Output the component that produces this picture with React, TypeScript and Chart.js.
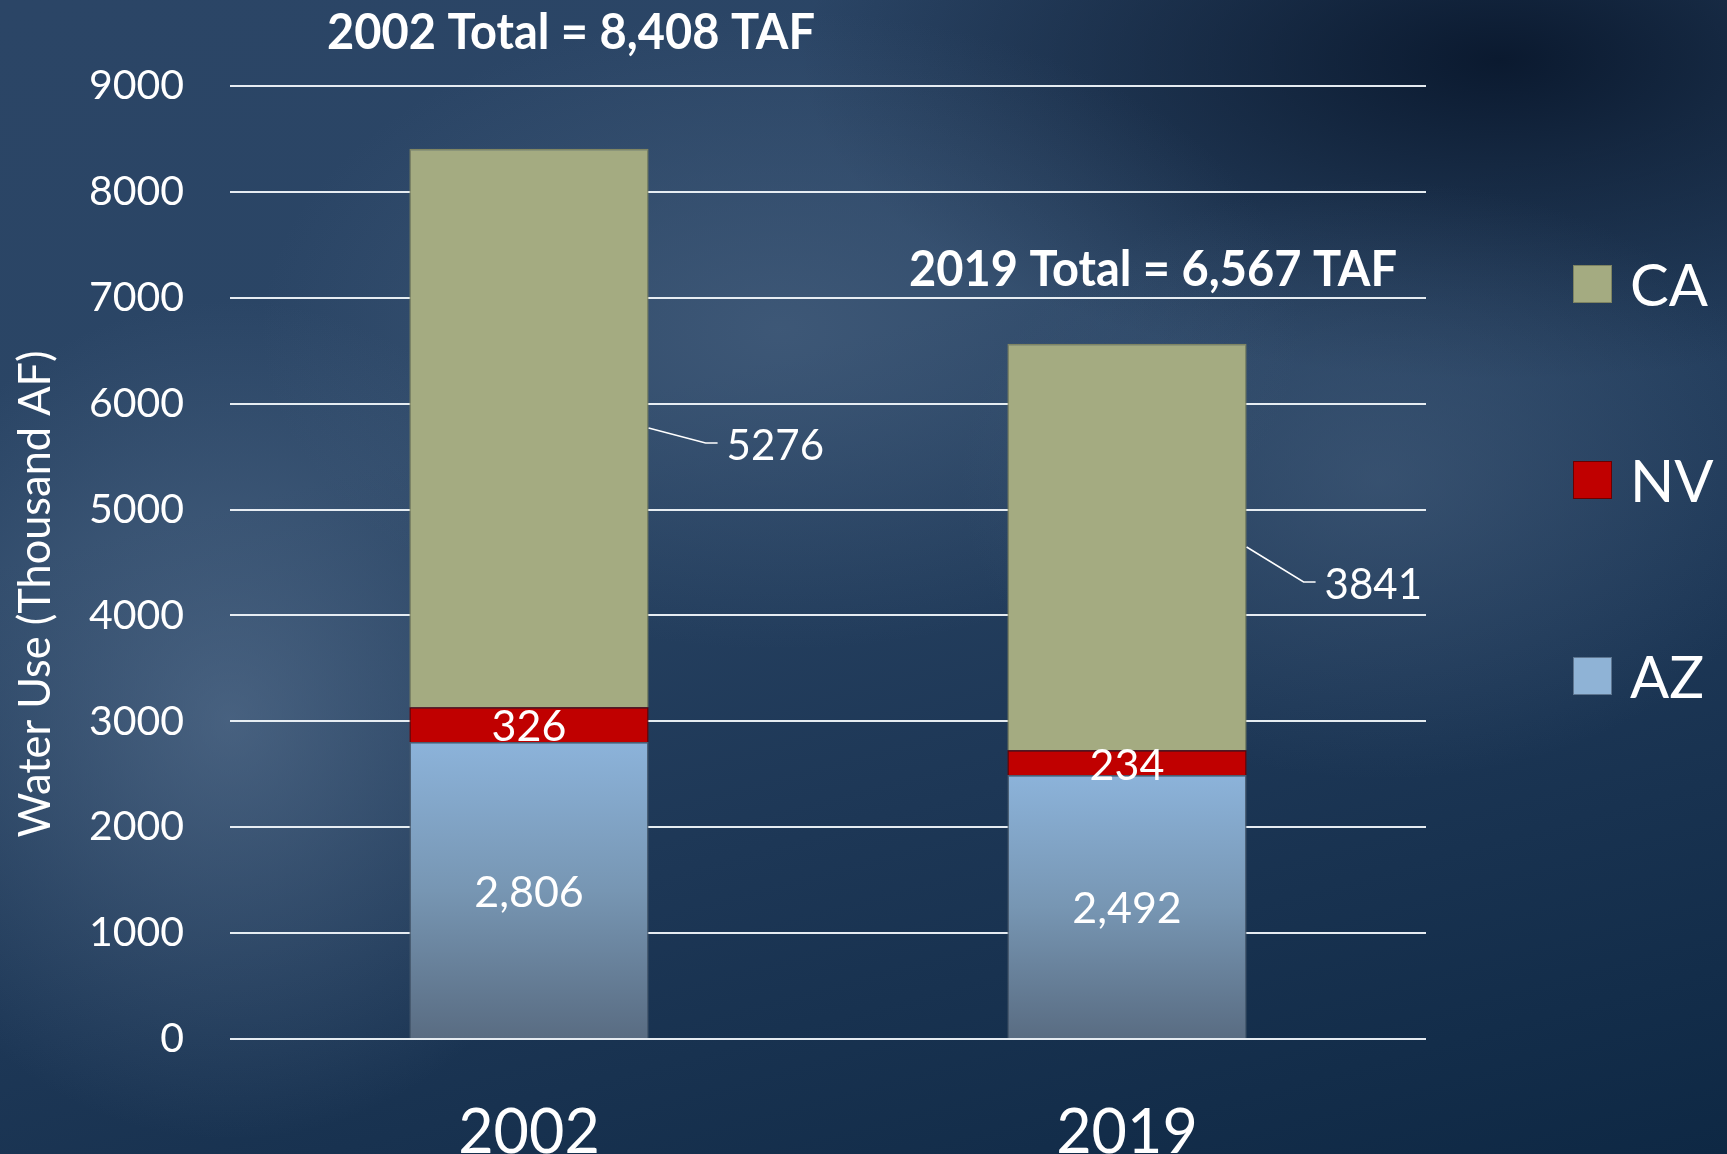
import React, { useEffect, useRef } from 'react';
import { Chart, registerables } from 'chart.js';

Chart.register(...registerables);

// ---- data ----
const categories = ['2002', '2019'];
const seriesNames = ['AZ', 'NV', 'CA'];
const azValues = [2806, 2492];
const nvValues = [326, 234];
const caValues = [5276, 3841];
const totalLabels = ['2002 Total = 8,408 TAF', '2019 Total = 6,567 TAF'];
const azLabels = ['2,806', '2,492'];
const yMin = 0;
const yMax = 9000;
const yStep = 1000;
const yTitle = 'Water Use (Thousand AF)';

// ---- styles ----
const FONT = 'Lato, "Open Sans", "DejaVu Sans", sans-serif';
const CA_COLOR = '#a4ab81';
const NV_COLOR = '#c00000';
const AZ_LEGEND = '#8fb3d6';
const leaderDrops = [15, 35];

const overlayPlugin = {
  id: 'overlay',
  afterDatasetsDraw(chart: any) {
    const ctx: CanvasRenderingContext2D = chart.ctx;
    ctx.save();
    ctx.fillStyle = '#ffffff';
    ctx.strokeStyle = '#ffffff';
    const azMeta = chart.getDatasetMeta(0);
    const nvMeta = chart.getDatasetMeta(1);
    const caMeta = chart.getDatasetMeta(2);
    ctx.textAlign = 'center';
    ctx.textBaseline = 'middle';
    ctx.font = `43px ${FONT}`;
    azMeta.data.forEach((el: any, i: number) => {
      ctx.fillText(azLabels[i], el.x, (el.y + el.base) / 2 + 3);
    });
    nvMeta.data.forEach((el: any, i: number) => {
      ctx.fillText(String(nvValues[i]), el.x, (el.y + el.base) / 2 + 3);
    });
    // CA labels with leader lines
    ctx.lineWidth = 1.5;
    ctx.textAlign = 'left';
    ctx.font = `42px ${FONT}`;
    caMeta.data.forEach((el: any, i: number) => {
      const x0 = el.x + el.width / 2;
      const y0 = (el.y + el.base) / 2;
      const x1 = x0 + 57;
      const y1 = y0 + leaderDrops[i];
      ctx.beginPath();
      ctx.moveTo(x0, y0);
      ctx.lineTo(x1, y1);
      ctx.lineTo(x1 + 12, y1);
      ctx.stroke();
      ctx.fillText(String(caValues[i]), x1 + 21, y1 + 3);
    });
    // totals
    ctx.font = `bold 50px ${FONT}`;
    ctx.textAlign = 'left';
    ctx.fillText(totalLabels[0], 327, 33, 488);
    ctx.textAlign = 'right';
    ctx.fillText(totalLabels[1], 1397, 270, 488);
    // y title
    ctx.save();
    ctx.translate(36, 594);
    ctx.rotate(-Math.PI / 2);
    ctx.textAlign = 'center';
    ctx.font = `44px ${FONT}`;
    ctx.fillText(yTitle, 0, 0, 487);
    ctx.restore();
    // legend
    const legendColors = [CA_COLOR, NV_COLOR, AZ_LEGEND];
    const legendBorders = ['#7d8362', '#6a0000', '#5d7590'];
    const legendNames = [seriesNames[2], seriesNames[1], seriesNames[0]];
    const legendY = [284, 480, 676];
    ctx.font = `58px ${FONT}`;
    ctx.textAlign = 'left';
    legendNames.forEach((name, i) => {
      ctx.fillStyle = legendColors[i];
      ctx.fillRect(1573, legendY[i] - 19, 39, 38);
      ctx.strokeStyle = legendBorders[i];
      ctx.lineWidth = 1;
      ctx.strokeRect(1573.5, legendY[i] - 18.5, 38, 37);
      ctx.fillStyle = '#ffffff';
      ctx.fillText(name, 1630, legendY[i] + 3);
    });
    ctx.restore();
  },
};

export default function App() {
  const canvasRef = useRef<HTMLCanvasElement | null>(null);

  useEffect(() => {
    document.body.style.margin = '0';
    const canvas = canvasRef.current;
    if (!canvas) return;
    const azGradient = (c: any) => {
      const chart = c.chart;
      if (!chart.chartArea || c.type !== 'data') return AZ_LEGEND;
      const ys = chart.scales.y;
      const top = ys.getPixelForValue(c.raw as number);
      const bottom = ys.getPixelForValue(0);
      const g = chart.ctx.createLinearGradient(0, top, 0, bottom);
      g.addColorStop(0, '#8cb3da');
      g.addColorStop(0.5, '#7796b3');
      g.addColorStop(1, '#596c82');
      return g;
    };
    const chart = new Chart(canvas, {
      type: 'bar',
      data: {
        labels: categories,
        datasets: [
          {
            label: seriesNames[0],
            data: azValues,
            backgroundColor: azGradient,
            borderColor: '#4a5c70',
            borderWidth: 1.5,
            barPercentage: 0.8,
            categoryPercentage: 0.5,
          },
          {
            label: seriesNames[1],
            data: nvValues,
            backgroundColor: NV_COLOR,
            borderColor: '#6e0000',
            borderWidth: 1.5,
            barPercentage: 0.8,
            categoryPercentage: 0.5,
          },
          {
            label: seriesNames[2],
            data: caValues,
            backgroundColor: CA_COLOR,
            borderColor: '#7f8563',
            borderWidth: 1.5,
            barPercentage: 0.8,
            categoryPercentage: 0.5,
          },
        ],
      },
      options: {
        responsive: false,
        animation: false,
        layout: { padding: { left: 0, top: 86, right: 301, bottom: 0 } },
        plugins: {
          legend: { display: false },
          tooltip: { enabled: false },
        },
        scales: {
          x: {
            stacked: true,
            grid: { display: false },
            border: { display: false },
            ticks: { color: '#ffffff', font: { family: FONT, size: 61 }, padding: 50 },
            afterFit: (s: any) => { s.height = 115; },
          },
          y: {
            stacked: true,
            min: yMin,
            max: yMax,
            ticks: {
              stepSize: yStep,
              color: '#ffffff',
              font: { family: FONT, size: 41 },
              padding: 46,
              callback: (v: any) => String(v),
            },
            grid: { color: 'rgba(240,245,250,0.95)', lineWidth: 2, drawTicks: false },
            border: { display: false },
            afterFit: (s: any) => { s.width = 230; },
          },
        },
      },
      plugins: [overlayPlugin],
    });
    return () => chart.destroy();
  }, []);

  return (
    <div
      style={{
        position: 'fixed',
        left: 0,
        top: 0,
        width: 1727,
        height: 1154,
        overflow: 'hidden',
        background: [
          'radial-gradient(ellipse 380px 420px at 230px 720px, rgba(100,125,155,0.55), rgba(100,125,155,0) 100%)',
          'radial-gradient(ellipse 520px 320px at 780px 330px, rgba(85,110,140,0.45), rgba(85,110,140,0) 100%)',
          'radial-gradient(ellipse 420px 300px at 1380px 480px, rgba(80,105,135,0.45), rgba(80,105,135,0) 100%)',
          'radial-gradient(ellipse 700px 320px at 1500px 60px, rgba(5,18,38,0.85), rgba(5,18,38,0) 100%)',
          'linear-gradient(165deg, #2b4566 0%, #2a4565 35%, #1d3756 65%, #0e2844 100%)',
        ].join(','),
      }}
    >
      <canvas ref={canvasRef} width={1727} height={1154} style={{ display: 'block' }} />
    </div>
  );
}
